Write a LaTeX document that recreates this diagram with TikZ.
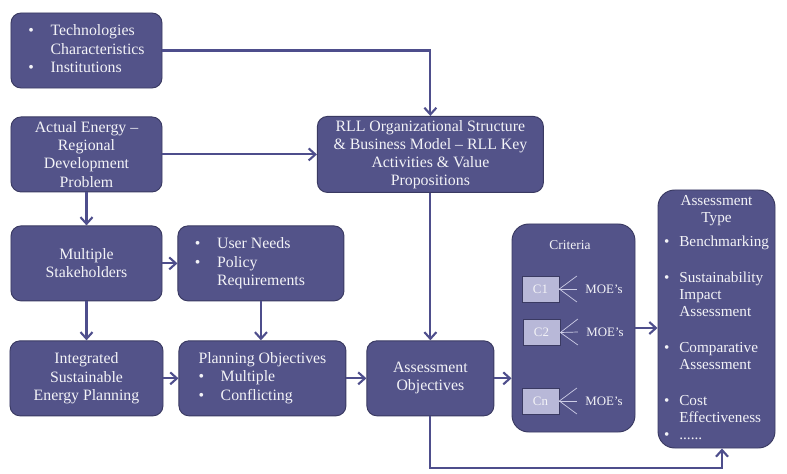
\documentclass[tikz,border=0pt]{standalone}
\usepackage{fontspec}
\setmainfont{Liberation Serif}
\usetikzlibrary{arrows.meta,positioning}

\definecolor{boxfill}{RGB}{83,83,137}
\definecolor{boxline}{RGB}{58,58,98}
\definecolor{pijl}{RGB}{78,78,140}
\definecolor{critfill}{RGB}{184,184,216}
\definecolor{fanline}{RGB}{205,205,230}
\definecolor{tekst}{RGB}{243,243,247}

\tikzset{
  blok/.style={draw=boxline, fill=boxfill, line width=0.8pt, rounded corners=0.3cm,
    text=tekst, align=center, inner sep=2pt, minimum height=2.25cm,
    font=\fontsize{13.5}{15.5}\selectfont},
  grootblok/.style={blok, rounded corners=0.5cm, inner sep=0pt},
  cblok/.style={draw=boxline, fill=critfill, line width=0.6pt, text=tekst,
    minimum width=1.11cm, minimum height=0.78cm, inner sep=1pt,
    font=\fontsize{11}{13}\selectfont},
  moe/.style={text=tekst, inner sep=1pt, font=\fontsize{11}{13}\selectfont},
  waaier/.style={-, draw=fanline, line width=0.6pt},
  verb/.style={draw=pijl, line width=1.8pt}
}
\newcommand{\bul}{\textbullet}

\begin{document}
\begin{tikzpicture}[->,>={Straight Barb[length=0.2cm,width=0.36cm]},
                    x=0.03cm,y=-0.03cm,semithick]

  \useasboundingbox (0,0) rectangle (787,473);

  % left column
  \node[blok,minimum width=4.53cm] (tech) at (86.5,50.5)
    {\begin{tabular}{@{}c@{\hspace{0.5cm}}l@{}}\bul & Technologies\\ & Characteristics\\ \bul & Institutions\end{tabular}};
  \node[blok,minimum width=4.53cm] (actual) [below=0.84cm of tech]
    {Actual Energy --\\Regional\\Development\\Problem};
  \node[blok,minimum width=4.53cm] (multi) [below=0.99cm of actual]
    {Multiple\\Stakeholders};
  \node[blok,minimum width=4.59cm] (integ) [below=1.17cm of multi]
    {Integrated\\Sustainable\\Energy Planning};

  % middle
  \node[blok,minimum width=4.98cm] (needs) [right=0.45cm of multi]
    {\begin{tabular}{@{}c@{\hspace{0.5cm}}l@{}}\bul & User Needs\\ \bul & Policy\\ & Requirements\end{tabular}\hspace{0.66cm}};
  \node[blok,minimum width=5.01cm] (plan) [right=0.45cm of integ]
    {\begin{tabular}{@{}c@{\hspace{0.5cm}}l@{}}\multicolumn{2}{@{}c@{}}{Planning Objectives}\\ \bul & Multiple\\ \bul & Conflicting\end{tabular}};
  \node[blok,minimum width=3.81cm] (aobj) [right=0.6cm of plan]
    {Assessment\\Objectives};
  \node[blok,minimum width=6.78cm,minimum height=2.28cm] (rll) at (aobj |- actual)
    {RLL Organizational Structure\\\& Business Model -- RLL Key\\Activities \& Value\\Propositions};

  % criteria
  \node[grootblok,minimum width=3.69cm,minimum height=6.24cm] (crit) at (573.5,328) {};
  \node[moe,font=\fontsize{11.5}{13}\selectfont] (critkop) at (570,245) {Criteria};
  \node[cblok] (c1) at (540.5,289)   {C1};
  \node[cblok] (c2) at (541.5,332.5) {C2};
  \node[cblok] (cn) at (540.5,401)   {Cn};
  \node[moe] (moe1) at (604,289) {MOE’s};
  \node[moe] (moe2) at (605,332) {MOE’s};
  \node[moe] (moen) at (604,401) {MOE’s};
  \foreach \c/\m in {c1/moe1,c2/moe2,cn/moen}
    \foreach \dy in {-13,0,13}
      \draw[waaier] (\c.east) -- ([xshift=-0.21cm,yshift=\dy*0.3mm]\m.west);

  % assessment type
  \node[grootblok,minimum width=3.51cm,minimum height=7.74cm,
        font=\fontsize{13}{14.6}\selectfont] (atype) at (716.5,319)
    {\begin{tabular}{@{}c@{\hspace{0.3cm}}l@{}}
      \multicolumn{2}{@{}c@{}}{Assessment}\\
      \multicolumn{2}{@{}c@{}}{Type}\\[0.22cm]
      \bul & Benchmarking\\[0.56cm]
      \bul & Sustainability\\ & Impact\\ & Assessment\\[0.56cm]
      \bul & Comparative\\ & Assessment\\[0.56cm]
      \bul & Cost\\ & Effectiveness\\
      \bul & ......
    \end{tabular}};

  \coordinate (omweg) at (722,468);

  \draw[verb] (tech.east) -| (rll.north);
  \draw[verb] (actual) -- (rll);
  \draw[verb] (actual) -- (multi);
  \draw[verb] (multi) -- (needs);
  \draw[verb] (multi) -- (integ);
  \draw[verb] (needs) -- (needs |- plan.north);
  \draw[verb] (integ) -- (plan);
  \draw[verb] (plan) -- (aobj);
  \draw[verb] (rll) -- (aobj);
  \draw[verb] (aobj.east) -- (aobj.east -| crit.west);
  \draw[verb] (crit.east) -- (crit.east -| atype.west);
  \draw[verb] (aobj.south) |- (omweg) -- (omweg |- atype.south);

\end{tikzpicture}
\end{document}
